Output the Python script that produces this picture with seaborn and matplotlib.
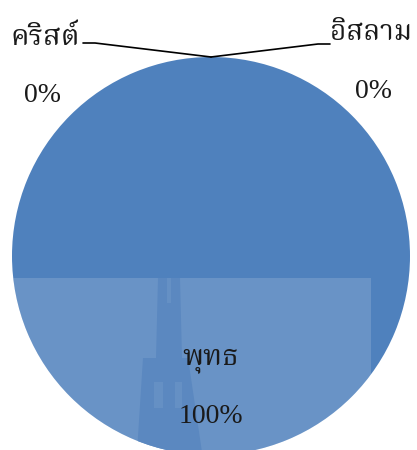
import matplotlib
matplotlib.use("Agg")
import matplotlib.pyplot as plt
import seaborn as sns
from matplotlib import font_manager
from matplotlib.patches import Polygon, Rectangle
from fontTools.ttLib import TTFont

# religion shares (percent)
religions = ["พุทธ", "คริสต์", "อิสลาม"]
shares = [100, 0, 0]
pie_color = "#4F81BD"

sns.set_style("white")


def find_thai_font():
    prefer = ["Norasi", "Noto Serif Thai", "Laksaman", "Garuda", "Loma",
              "Noto Sans Thai", "Tlwg", "Sawasdee", "Kinnari"]
    found = []
    for f in font_manager.fontManager.ttflist:
        try:
            cmap = TTFont(f.fname, fontNumber=0, lazy=True).getBestCmap()
        except Exception:
            continue
        if cmap and 0x0E04 in cmap and 0x0E34 in cmap:
            found.append(f.name)
    for p in prefer:
        for n in found:
            if p.lower() in n.lower():
                return n
    return found[0] if found else "DejaVu Sans"


thai_font = find_thai_font()
plt.rcParams["font.family"] = ["Liberation Serif", thai_font, "DejaVu Sans"]

fig = plt.figure(figsize=(4.17, 4.5), dpi=100)
ax = fig.add_axes([0, 0, 1, 1])

# pixel -> data helper (pie centre at 211,256, radius 199 px)
CX, CY, R = 211, 256, 199


def px(x, y):
    return (x - CX) / R, (CY - y) / R


wedges, _ = ax.pie(shares, colors=[pie_color] * len(shares), startangle=90,
                   counterclock=False, radius=1, center=(0, 0),
                   wedgeprops=dict(linewidth=0))
ax.set_aspect("auto")
ax.set_xlim(px(0, 0)[0], px(417, 0)[0])
ax.set_ylim(px(0, 450)[1], px(0, 0)[1])
ax.axis("off")

# faint watermark over lower half
x0, y0 = px(12, 450)
x1, y1 = px(371, 278)
wm = Rectangle((x0, y0), x1 - x0, y1 - y0, facecolor="white", alpha=0.15,
               edgecolor="none", zorder=3)
ax.add_patch(wm)
wm.set_clip_path(wedges[0])

temple = [(158, 278), (180, 278), (182, 358), (188, 358), (202, 452),
          (137, 452), (143, 358), (156, 358)]
tp = Polygon([px(*p) for p in temple], closed=True, facecolor="#5b88c0",
             edgecolor="none", zorder=4)
ax.add_patch(tp)
tp.set_clip_path(wedges[0])
for (a, b, c, d) in [(167, 278, 171, 303), (154, 382, 163, 408),
                     (175, 382, 182, 408)]:
    hx0, hy0 = px(a, d)
    hx1, hy1 = px(c, b)
    h = Rectangle((hx0, hy0), hx1 - hx0, hy1 - hy0, facecolor="#6590c4",
                  edgecolor="none", zorder=5)
    ax.add_patch(h)
    h.set_clip_path(wedges[0])

# labels
pct = [f"{v:.0f}%" for v in shares]
txt_kw = dict(color="#1a1a1a", zorder=6)
ax.text(*px(211, 364), religions[0], ha="center", va="baseline", fontsize=21, **txt_kw)
ax.text(*px(211, 423), pct[0], ha="center", va="baseline", fontsize=20, **txt_kw)
ax.text(*px(80, 45), religions[1], ha="right", va="baseline", fontsize=21, **txt_kw)
ax.text(*px(43, 102), pct[1], ha="center", va="baseline", fontsize=20, **txt_kw)
ax.text(*px(412, 40), religions[2], ha="right", va="baseline", fontsize=20, **txt_kw)
ax.text(*px(374, 98), pct[2], ha="center", va="baseline", fontsize=20, **txt_kw)

# leader lines
for pts in [[(83, 43), (95, 43), (211, 57)], [(211, 57), (318, 44), (330, 44)]]:
    xs, ys = zip(*[px(*p) for p in pts])
    ax.plot(xs, ys, color="black", lw=1.2, zorder=6)

fig.savefig("out.png", dpi=100)
